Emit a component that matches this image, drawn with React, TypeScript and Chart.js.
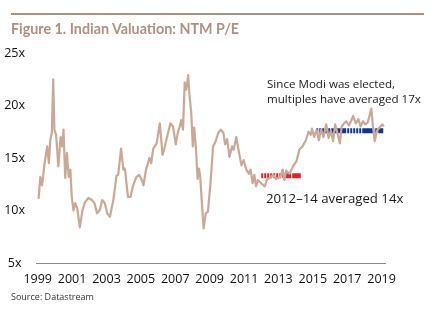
import React, { useEffect, useRef } from "react";
import { Chart, registerables } from "chart.js";

Chart.register(...registerables);

const years: number[] = [
  1999.05, 1999.15, 1999.25, 1999.4, 1999.55, 1999.65, 1999.73, 1999.82, 1999.9, 1999.97,
  2000.07, 2000.2, 2000.33, 2000.42, 2000.5, 2000.6, 2000.7, 2000.8, 2000.9, 2000.98,
  2001.08, 2001.18, 2001.3, 2001.45, 2001.6, 2001.75, 2001.95, 2002.15, 2002.3, 2002.45,
  2002.6, 2002.75, 2002.9, 2003.05, 2003.2, 2003.4, 2003.58, 2003.68, 2003.85, 2003.98,
  2004.07, 2004.25, 2004.4, 2004.55, 2004.75, 2004.9, 2005.05, 2005.15, 2005.3, 2005.5,
  2005.6, 2005.72, 2005.92, 2006.1, 2006.26, 2006.38, 2006.52, 2006.72, 2006.87, 2007.03,
  2007.16, 2007.26, 2007.35, 2007.45, 2007.55, 2007.64, 2007.75, 2007.83, 2007.93, 2008.02,
  2008.1, 2008.2, 2008.3, 2008.38, 2008.45, 2008.55, 2008.65, 2008.77, 2008.9, 2009.05,
  2009.2, 2009.35, 2009.5, 2009.65, 2009.8, 2009.9, 2010.02, 2010.15, 2010.3, 2010.4,
  2010.55, 2010.7, 2010.85, 2010.98, 2011.13, 2011.28, 2011.38, 2011.5, 2011.6, 2011.7,
  2011.8, 2012.0, 2012.2, 2012.35, 2012.5, 2012.7, 2012.85, 2013.1, 2013.25, 2013.35,
  2013.45, 2013.65, 2013.85, 2014.05, 2014.22, 2014.4, 2014.6, 2014.75, 2014.88, 2014.95,
  2015.08, 2015.22, 2015.35, 2015.48, 2015.62, 2015.78, 2015.92, 2016.05, 2016.18, 2016.3,
  2016.43, 2016.57, 2016.68, 2016.82, 2016.95, 2017.1, 2017.22, 2017.35, 2017.5, 2017.65,
  2017.78, 2017.92, 2018.05, 2018.2, 2018.4, 2018.5, 2018.6, 2018.73, 2018.88, 2019.05,
  2019.13,
];

const peValues: number[] = [
  11.1, 13.2, 12.4, 14.5, 16.1, 14.5, 16.7, 17.4, 22.5, 17.7,
  17.2, 14.2, 17.0, 16.1, 17.7, 13.1, 15.5, 13.2, 13.9, 11.3,
  10.0, 10.7, 10.2, 8.4, 10.0, 10.8, 11.2, 11.0, 10.7, 9.75,
  10.0, 11.0, 10.7, 9.7, 9.4, 11.0, 13.3, 13.4, 15.9, 13.9,
  14.0, 11.3, 11.3, 12.4, 13.2, 13.4, 12.9, 12.4, 13.9, 15.0,
  14.5, 15.9, 16.4, 18.3, 15.3, 16.0, 17.0, 18.3, 18.0, 16.3,
  17.5, 18.0, 18.6, 17.7, 22.2, 21.5, 22.9, 20.9, 19.3, 16.1,
  17.9, 16.0, 13.0, 14.0, 13.3, 10.7, 8.3, 9.7, 9.9, 12.6,
  16.1, 16.6, 17.4, 17.7, 17.4, 16.3, 16.8, 15.1, 16.1, 15.8,
  17.0, 15.6, 14.3, 14.8, 13.9, 13.5, 13.9, 12.6, 13.4, 12.3,
  12.9, 12.6, 12.3, 13.0, 13.1, 13.4, 13.0, 13.2, 13.9, 12.9,
  13.8, 13.5, 14.2, 14.7, 15.8, 16.1, 16.7, 17.5, 17.2, 17.8,
  17.0, 17.7, 16.7, 17.7, 17.0, 18.2, 16.9, 17.6, 16.6, 18.2,
  17.4, 16.4, 18.0, 18.3, 18.5, 18.1, 18.5, 19.0, 18.3, 18.7,
  18.0, 18.5, 18.2, 18.4, 19.7, 18.0, 16.6, 17.6, 17.9, 18.2,
  18.0,
];

const avg2012Years: number[] = [2012.0, 2014.3];
const avg2012Value = 13.3;
const avgModiYears: number[] = [2015.2, 2019.1];
const avgModiValue = 17.6;

const xTickYears: number[] = [1999, 2001, 2003, 2005, 2007, 2009, 2011, 2013, 2015, 2017, 2019];
const yTickValues: number[] = [5, 10, 15, 20, 25];

const TITLE = "Figure 1. Indian Valuation: NTM P/E";
const SOURCE = "Source: Datastream";
const NOTE_MODI_1 = "Since Modi was elected,";
const NOTE_MODI_2 = "multiples have averaged 17x";
const NOTE_2012 = "2012\u201314 averaged 14x";

const redDash = [2, 1, 2, 1, 2, 1, 2, 1, 2, 1, 2, 1, 2, 1, 2, 1, 6, 1, 30];
const blueDash = [2, 1, 2, 1, 2, 1, 2, 1, 2, 1, 15, 1, 2, 1, 2, 1, 2, 1, 2, 1, 2, 1, 12, 1, 2, 1, 40];

const FONT = "'Open Sans', 'DejaVu Sans', sans-serif";

export default function App() {
  const ref = useRef<HTMLCanvasElement | null>(null);

  useEffect(() => {
    if (!ref.current) return;
    const chart = new Chart(ref.current, {
      type: "line",
      data: {
        datasets: [
          {
            data: years.map((x, i) => ({ x, y: peValues[i] })),
            borderColor: "#cba896",
            borderWidth: 2.2,
            pointRadius: 0,
            tension: 0,
            borderJoinStyle: "round",
          },
          {
            data: avg2012Years.map((x) => ({ x, y: avg2012Value })),
            borderColor: "#e2222b",
            borderWidth: 5,
            pointRadius: 0,
            borderDash: redDash,
            borderCapStyle: "butt",
          },
          {
            data: avgModiYears.map((x) => ({ x, y: avgModiValue })),
            borderColor: "#0c3795",
            borderWidth: 5,
            pointRadius: 0,
            borderDash: blueDash,
            borderCapStyle: "butt",
          },
        ],
      },
      options: {
        animation: false,
        responsive: false,
        devicePixelRatio: 1,
        layout: { padding: { top: 53, right: 53, left: 0, bottom: 0 } },
        plugins: { legend: { display: false }, tooltip: { enabled: false }, title: { display: false } },
        scales: {
          x: {
            type: "linear",
            min: 1998.9,
            max: 2019.2,
            afterBuildTicks: (s: any) => {
              s.ticks = xTickYears.map((v) => ({ value: v }));
            },
            afterFit: (s: any) => {
              s.height = 60;
            },
            grid: { display: false },
            border: { display: true, color: "#8a8a8a", width: 1 },
            ticks: {
              autoSkip: false,
              maxRotation: 0,
              padding: 1,
              color: "#111",
              font: { family: FONT, size: 12.5 },
              callback: (v: any) => String(v),
            },
          },
          y: {
            min: 5,
            max: 25,
            afterBuildTicks: (s: any) => {
              s.ticks = yTickValues.map((v) => ({ value: v }));
            },
            afterFit: (s: any) => {
              s.width = 36;
            },
            grid: { display: false },
            border: { display: false },
            ticks: {
              crossAlign: "center",
              padding: 3,
              color: "#111",
              font: { family: FONT, size: 12.5 },
              callback: (v: any) => v + "x",
            },
          },
        },
      },
    } as any);
    return () => chart.destroy();
  }, []);

  const abs = (o: React.CSSProperties): React.CSSProperties => ({
    position: "absolute",
    whiteSpace: "nowrap",
    margin: 0,
    ...o,
  });

  return (
    <div style={{ position: "absolute", left: 0, top: 0, width: 438, height: 323, background: "#fff", overflow: "hidden" }}>
      <canvas ref={ref} width={438} height={323} style={{ position: "absolute", left: 0, top: 0 }} />
      <div style={abs({ left: 11, top: 13, width: 413, height: 2, background: "#ab8f7f" })} />
      <div style={abs({ left: 11, top: 20, fontFamily: "Lato, sans-serif", fontWeight: 700, fontSize: 14.3, lineHeight: "18px", color: "#b0907f" })}>{TITLE}</div>
      <div style={abs({ left: 267, top: 76, fontFamily: FONT, fontSize: 11.6, lineHeight: "16px", color: "#1a1a1a" })}>{NOTE_MODI_1}</div>
      <div style={abs({ left: 267, top: 91, fontFamily: FONT, fontSize: 11.6, lineHeight: "16px", color: "#1a1a1a" })}>{NOTE_MODI_2}</div>
      <div style={abs({ left: 266, top: 190, fontFamily: FONT, fontSize: 13.2, lineHeight: "16px", color: "#1a1a1a" })}>{NOTE_2012}</div>
      <div style={abs({ left: 11, top: 290, fontFamily: FONT, fontSize: 9, lineHeight: "13px", color: "#333" })}>{SOURCE}</div>
    </div>
  );
}
